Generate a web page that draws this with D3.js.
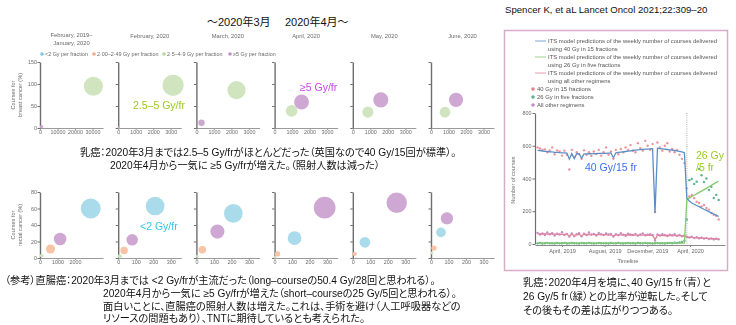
<!DOCTYPE html>
<html>
<head>
<meta charset="utf-8">
<script src="https://cdn.jsdelivr.net/npm/d3@7"></script>
<style>
  body { margin: 0; background: #fff; }
  svg { display: block; }
  .jp { font-family: 'Liberation Sans', 'Noto Sans CJK JP', sans-serif; font-feature-settings: "palt" 1; fill: #111; }
  .sm { font-family: 'Liberation Sans', Arial, sans-serif; fill: #6a6a6a; }
</style>
</head>
<body>
<svg id="chart" width="736" height="325">
  <defs>
    <filter id="soft" x="-5%" y="-5%" width="110%" height="110%">
      <feGaussianBlur stdDeviation="0.35"/>
    </filter>
  </defs>
</svg>
<script>
// ---- Bubble panels: dose-per-fraction mix by period ----
const periods = ["February, 2019–|January, 2020", "February, 2020", "March, 2020", "April, 2020", "May, 2020", "June, 2020"];
const periodMonths = [12, 1, 1, 1, 1, 1];
const doseGroups = ["<2 Gy per fraction", "2·00–2·49 Gy per fraction", "2·5–4·9 Gy per fraction", "≥5 Gy per fraction"];

// courses per period, order: <2, 2.00–2.49, 2.5–4.9, ≥5 Gy
const breastCourses = [
  [0, 0, 30500, 900],
  [0, 0, 3140, 40],
  [0, 0, 2290, 290],
  [0, 0, 970, 1540],
  [0, 0, 860, 1600],
  [0, 0, 800, 1430]
];
const breastPct = [
  [0, 0, 95, 3],
  [0, 0, 97, 1],
  [0, 0, 86, 12],
  [0, 0, 39, 59],
  [0, 0, 36, 64],
  [0, 0, 36, 64]
];
const rectalCourses = [
  [2900, 600, 100, 1150],
  [211, 34, 10, 80],
  [211, 34, 5, 120],
  [114, 17, 3, 286],
  [69, 11, 0, 251],
  [57, 17, 5, 91]
];
const rectalPct = [
  [60, 11, 3, 23],
  [63, 9, 2, 22],
  [54, 10, 2, 32],
  [24, 5, 1, 61],
  [19, 5, 0, 67],
  [31, 12, 6, 48]
];
const breastYTicks = [0, 50, 100, 150];
const rectalYTicks = [0, 20, 40, 60, 80];
const breastXTicksYear = [0, 10000, 20000, 30000];
const breastXTicksMonth = [0, 1000, 2000, 3000];
const rectalXTicksYear = [0, 1000, 2000];
const rectalXTicksMonth = [0, 100, 200, 300];

// ---- Weekly time series (breast, UK) ----
const weekStart = "2019-01-21";
const fx40Model = [572,570,568,566,565,563,562,560,560,558,557,556,555,518,553,522,552,551,524,
  550,550,551,551,552,552,553,553,554,554,555,555,527,
  557,559,561,563,565,567,569,571,573,575,576,578,579,580,581,582,190,
  585,583,581,579,577,575,573,571,569,566,563,558,
  280,262,250,243,235,228,220,212,205,198,190,183,176,168];
const fx40Obs = [590,583,575,578,560,571,590,548,572,565,540,570,545,455,575,530,560,548,520,
  572,545,560,538,565,550,575,540,560,590,545,565,520,
  575,548,580,560,590,575,604,570,560,616,585,570,630,600,575,610,195,
  620,590,570,600,616,565,580,560,575,545,520,494,
  340,290,300,280,258,250,230,238,220,210,190,178,172,150];
const fx26Model = [5,5,5,5,5,5,5,5,5,5,5,5,5,5,5,5,5,5,5,5,5,5,5,5,5,5,5,5,5,5,5,5,5,5,5,5,5,5,5,5,
  5,5,5,5,5,5,5,5,5,5,5,5,5,5,5,5,5,5,5,5,5,
  270,280,290,298,306,315,323,332,340,350,358,367,376,385];
const fx26Obs = [4,6,3,5,7,4,5,3,6,4,5,7,3,4,6,5,4,3,6,5,4,7,5,3,4,6,5,4,5,3,6,4,5,7,4,3,5,6,4,5,
  3,6,5,4,7,5,4,3,5,6,4,5,3,6,7,5,8,6,9,12,20,
  150,390,397,366,380,458,420,378,400,330,350,281,300,269];
const otherModel = [62,62,61,61,61,60,60,60,60,59,59,59,59,50,59,52,58,58,52,
  58,58,58,57,57,57,57,57,57,56,56,56,50,
  56,56,56,55,55,55,55,55,54,54,54,54,54,53,53,53,28,
  53,53,52,52,52,52,51,51,51,51,50,50,
  42,41,40,39,38,37,36,35,34,34,33,32,31,30];
const otherObs = [68,58,64,55,70,60,66,52,63,58,72,55,62,45,65,48,60,66,47,
  63,55,70,58,62,52,67,60,55,64,58,61,46,
  60,54,66,57,50,63,58,55,62,51,59,64,53,57,60,55,22,
  58,52,60,55,49,57,53,60,50,55,48,52,
  45,40,44,36,42,35,38,33,36,30,34,28,32,29];
const timeTicks = ["2019-04-01", "2019-08-01", "2019-12-01", "2020-04-01"];
const yCourseTicks = [0, 200, 400, 600, 800];
const lockdownDate = "2020-03-23";

const svg = d3.select("#chart");
const groupFill = ["#a9dbea", "#f8c4a8", "#d0e5bf", "#cea8d3"];
const groupDot = ["#7fc8e3", "#f2a98a", "#b5d89e", "#c08ec8"];

function txt(g, x, y, s, cls, size, attrs = {}) {
  const t = g.append("text").attr("x", x).attr("y", y).attr("class", cls)
    .style("font-size", size + "px").text(s);
  Object.entries(attrs).forEach(([k, v]) => t.attr(k, v));
  return t;
}

// Headings
txt(svg, 207, 26, "～2020年3月", "jp", 11);
txt(svg, 285, 26, "2020年4月～", "jp", 11);
txt(svg, 505, 13, "Spencer K, et aL Lancet Oncol 2021;22:309–20", "jp", 9.6);

// Figure layer (soft, like the printed source figure)
const fig = svg.append("g").attr("filter", "url(#soft)");

// Period titles
const panelX0 = 40, panelStep = 78.2, panelW = 63;
periods.forEach((p, i) => {
  const cx = panelX0 + i * panelStep + panelW / 2;
  const parts = p.split("|");
  parts.forEach((s, k) => {
    txt(fig, cx, parts.length > 1 ? 37 + k * 8 : 38, s, "sm", 5.8, {"text-anchor": "middle"});
  });
});

// Dose legend
const legX = [42, 94, 164, 230];
doseGroups.forEach((d, i) => {
  fig.append("circle").attr("cx", legX[i]).attr("cy", 54).attr("r", 1.8).attr("fill", groupDot[i]);
  txt(fig, legX[i] + 3, 56, d, "sm", 5.4);
});

function bubbleRow(courses, pct, yTop, yBot, yMax, yTicks, xYear, xMonth, rDomain, yTitle) {
  const y = d3.scaleLinear().domain([0, yMax]).range([yBot, yTop]);
  const r = d3.scaleSqrt().domain([0, rDomain]).range([0, 10]);
  periods.forEach((p, i) => {
    const x0 = panelX0 + i * panelStep;
    const ticks = i === 0 ? xYear : xMonth;
    const xMax = i === 0 ? xYear[1] * 3.6 : xMonth[1] * 3.6;
    const x = d3.scaleLinear().domain([0, xMax]).range([x0, x0 + panelW]);
    const g = fig.append("g");
    // x axis
    const xa = g.append("g").attr("transform", `translate(0,${yBot})`)
      .call(d3.axisBottom(x).tickValues(ticks).tickSize(2).tickSizeOuter(0).tickFormat(d3.format("d")));
    xa.select(".domain").attr("stroke", "#9a9a9a").attr("stroke-width", 1);
    xa.selectAll(".tick line").attr("stroke", "#9a9a9a");
    xa.selectAll("text").attr("class", "sm").attr("fill", null).style("font-size", "5.4px").attr("dy", "0.6em").attr("y", 3);
    // y axis
    const ya = g.append("g").attr("transform", `translate(${x0},0)`)
      .call(d3.axisLeft(y).tickValues(yTicks).tickSize(2.5).tickSizeOuter(0));
    ya.select(".domain").attr("stroke", "#6e6e6e").attr("stroke-width", 1.4);
    ya.selectAll(".tick line").attr("stroke", "#6e6e6e");
    ya.selectAll("text").attr("class", "sm").attr("fill", null).style("font-size", "5.4px").attr("x", -3);
    if (i > 0) ya.selectAll("text").remove();
    // bubbles, largest first
    const pts = courses[i].map((c, k) => ({k, c, v: pct[i][k], m: c / periodMonths[i]}))
      .filter(d => d.c > 0).sort((a, b) => b.m - a.m);
    g.selectAll("circle.b").data(pts).join("circle")
      .attr("cx", d => x(d.c)).attr("cy", d => y(d.v)).attr("r", d => Math.max(r(d.m), 1.2))
      .attr("fill", d => groupFill[d.k]);
  });
  const yc = (yTop + yBot) / 2;
  txt(fig, 0, 0, yTitle[0], "sm", 5.6, {"text-anchor": "middle", transform: `translate(15,${yc}) rotate(-90)`});
  txt(fig, 0, 0, yTitle[1], "sm", 5.6, {"text-anchor": "middle", transform: `translate(21.5,${yc}) rotate(-90)`});
}

bubbleRow(breastCourses, breastPct, 62, 128, 150, breastYTicks, breastXTicksYear, breastXTicksMonth, 2800, ["Courses for", "breast cancer (%)"]);
bubbleRow(rectalCourses, rectalPct, 192, 258, 80, rectalYTicks, rectalXTicksYear, rectalXTicksMonth, 242, ["Courses for", "rectal cancer (%)"]);

// Annotations in bubble panels
txt(svg, 133, 109, "2.5–5 Gy/fr", "sm", 10.5).style("fill", "#9dc81e");
txt(svg, 300, 91, "≥5 Gy/fr", "sm", 10.5).style("fill", "#cc44ee");
txt(svg, 140, 230, "<2 Gy/fr", "sm", 10.5).style("fill", "#38c4f0");

// Commentary
txt(svg, 80, 156, "乳癌：2020年3月までは2.5–5 Gy/frがほとんどだった（英国なので40 Gy/15回が標準）。", "jp", 10.2);
txt(svg, 110, 169, "2020年4月から一気に ≥5 Gy/frが増えた。（照射人数は減った）", "jp", 10.2);
txt(svg, 5, 284, "（参考）直腸癌：2020年3月までは <2 Gy/frが主流だった（long–courseの50.4 Gy/28回と思われる）。", "jp", 10.2);
txt(svg, 103, 297, "2020年4月から一気に ≥5 Gy/frが増えた（short–courseの25 Gy/5回と思われる）。", "jp", 10.2);
txt(svg, 103, 310, "面白いことに、直腸癌の照射人数は増えた。これは、手術を避け（人工呼吸器などの", "jp", 10.2);
txt(svg, 103, 322, "リソースの問題もあり）、TNTに期待しているとも考えられた。", "jp", 10.2);
txt(svg, 523, 286, "乳癌：2020年4月を境に、40 Gy/15 fr（青）と", "jp", 10.2);
txt(svg, 523, 300, "26 Gy/5 fr（緑）との比率が逆転した。そして", "jp", 10.2);
txt(svg, 523, 314, "その後もその差は広がりつつある。", "jp", 10.2);

// ---- Right: weekly courses panel ----
fig.append("rect").attr("x", 504.5).attr("y", 30.5).attr("width", 223).attr("height", 240)
  .attr("fill", "none").attr("stroke", "#d6acc6").attr("stroke-width", 1.5);

const parse = d3.timeParse("%Y-%m-%d");
const t0 = parse(weekStart);
const weeks = fx40Model.map((_, i) => d3.timeDay.offset(t0, 7 * i));
const xRef = d3.scaleTime().domain([parse("2019-04-01"), parse("2020-04-01")]).range([562, 690]);
const xT = d3.scaleTime().domain([xRef.invert(535), xRef.invert(725)]).range([535, 725]);
const yT = d3.scaleLinear().domain([0, 800]).range([244, 113]);

const xa = fig.append("g").attr("transform", "translate(0,245)")
  .call(d3.axisBottom(xT).tickValues(timeTicks.map(parse)).tickSize(2).tickSizeOuter(0).tickFormat(d3.timeFormat("%B, %Y")));
xa.select(".domain").attr("stroke", "#8a8a8a");
xa.selectAll(".tick line").attr("stroke", "#8a8a8a");
xa.selectAll("text").attr("class", "sm").attr("fill", null).style("font-size", "5.6px").attr("y", 4);

const ya = fig.append("g").attr("transform", "translate(535,0)")
  .call(d3.axisLeft(yT).tickValues(yCourseTicks).tickSize(2.5).tickSizeOuter(0));
ya.select(".domain").attr("stroke", "#6e6e6e").attr("stroke-width", 1.2);
ya.selectAll(".tick line").attr("stroke", "#6e6e6e");
ya.selectAll("text").attr("class", "sm").attr("fill", null).style("font-size", "5.4px").attr("x", -3.5);

txt(fig, 0, 0, "Number of courses", "sm", 5.6, {"text-anchor": "middle", transform: "translate(515,180) rotate(-90)"});
txt(fig, 628, 263, "Timeline", "sm", 5.6, {"text-anchor": "middle"});

fig.append("line").attr("x1", xT(parse(lockdownDate))).attr("x2", xT(parse(lockdownDate)))
  .attr("y1", 113).attr("y2", 244).attr("stroke", "#9a9a9a").attr("stroke-width", 0.8).attr("stroke-dasharray", "1,1.2");

const series = [
  {obs: otherObs, model: otherModel, dot: "#c98ac6", line: "#e0849a"},
  {obs: fx26Obs, model: fx26Model, dot: "#5fb48c", line: "#86c86f"},
  {obs: fx40Obs, model: fx40Model, dot: "#ea959c", line: "#5b8ec6"}
];
const line = d3.line().x((d, i) => xT(weeks[i])).y(d => yT(d));
series.forEach(s => {
  fig.append("g").selectAll("circle").data(s.obs).join("circle")
    .attr("cx", (d, i) => xT(weeks[i])).attr("cy", d => yT(d)).attr("r", 1.2).attr("fill", s.dot);
});
series.forEach(s => {
  fig.append("path").datum(s.model).attr("d", line).attr("fill", "none")
    .attr("stroke", s.line).attr("stroke-width", 1.3);
});

// Legend for weekly panel
const legLines = [
  ["#5b8ec6", "ITS model predictions of the weekly number of courses delivered", "using 40 Gy in 15 fractions", 41],
  ["#86c86f", "ITS model predictions of the weekly number of courses delivered", "using 26 Gy in five fractions", 57],
  ["#e0849a", "ITS model predictions of the weekly number of courses delivered", "using all other regimens", 73]
];
legLines.forEach(([c, a, b, y]) => {
  fig.append("line").attr("x1", 535).attr("x2", 546).attr("y1", y).attr("y2", y).attr("stroke", c).attr("stroke-width", 0.8);
  txt(fig, 548, y + 2, a, "sm", 5.9).style("fill", "#555");
  txt(fig, 548, y + 10, b, "sm", 5.9).style("fill", "#555");
});
const legDots = [["#ea7f86", "40 Gy in 15 fractions", 89], ["#5fb48c", "26 Gy in five fractions", 97], ["#c98ac6", "All other regimens", 105]];
legDots.forEach(([c, s, y]) => {
  fig.append("circle").attr("cx", 533).attr("cy", y).attr("r", 1.8).attr("fill", c);
  txt(fig, 537, y + 2, s, "sm", 5.9).style("fill", "#555");
});

// Annotations in weekly panel
txt(svg, 585, 171, "40 Gy/15 fr", "sm", 10.5).style("fill", "#3a70f0");
txt(svg, 696, 159, "26 Gy", "sm", 10.5).style("fill", "#99cc22");
txt(svg, 696, 171, "/5 fr", "sm", 10.5).style("fill", "#99cc22");
</script>
</body>
</html>
